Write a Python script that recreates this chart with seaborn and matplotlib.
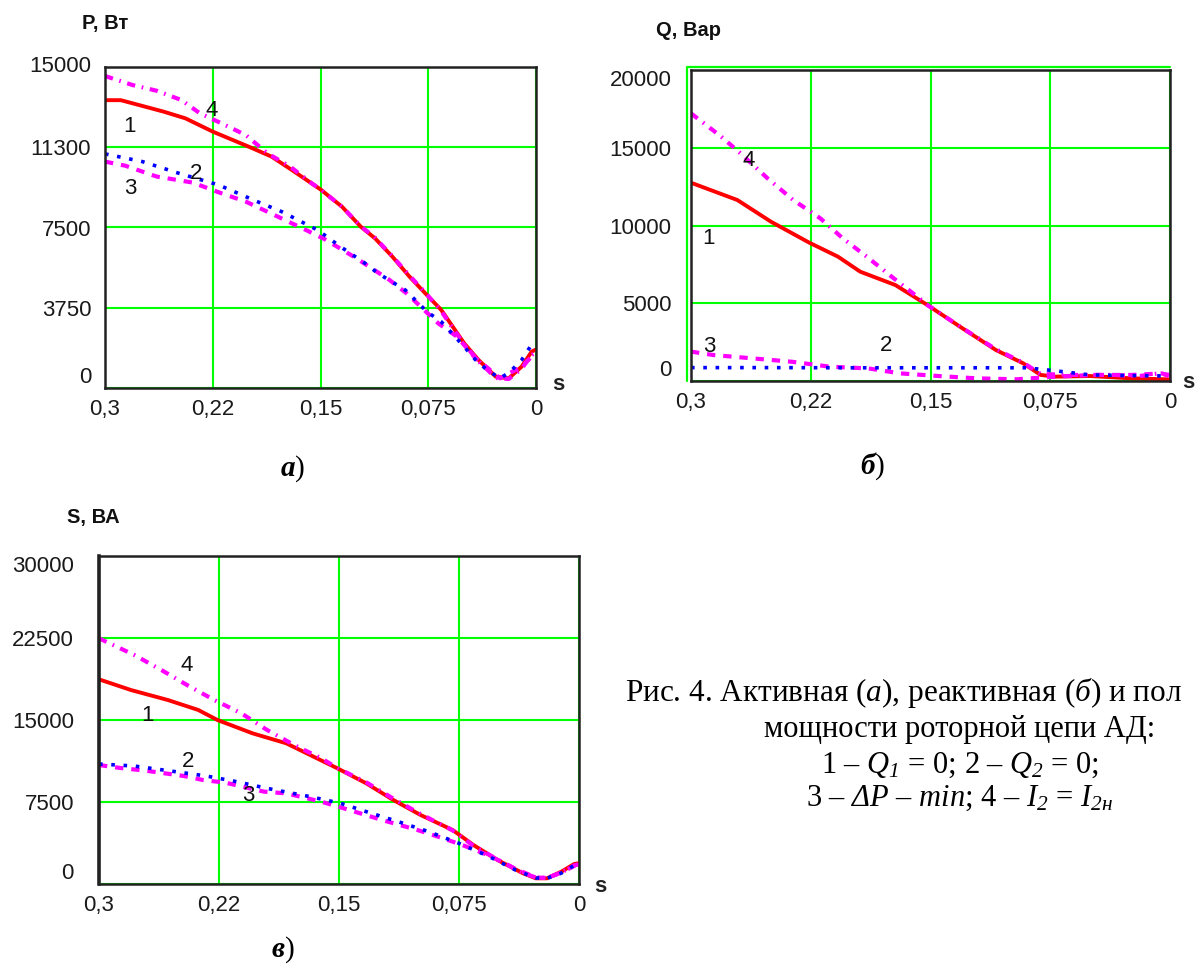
import matplotlib
matplotlib.use("Agg")
import matplotlib.pyplot as plt
import seaborn as sns
import pandas as pd
import numpy as np

sns.set_style("white")
plt.rcParams['font.family'] = ['Liberation Sans', 'DejaVu Sans']
plt.rcParams['mathtext.fontset'] = 'custom'
plt.rcParams['mathtext.rm'] = 'Liberation Serif'
plt.rcParams['mathtext.it'] = 'Liberation Serif:italic'
plt.rcParams['mathtext.sf'] = 'Liberation Serif:italic'
plt.rcParams['mathtext.bf'] = 'Liberation Serif:bold'
plt.rcParams['mathtext.bfit'] = 'Liberation Serif:italic:bold'

# ---------------- data ----------------
# Panel a) P, W
pa_s1 = [0.300, 0.289, 0.274, 0.259, 0.244, 0.225, 0.199, 0.184, 0.170, 0.150, 0.135, 0.122, 0.112, 0.100, 0.088, 0.077, 0.066, 0.058, 0.050, 0.040, 0.028, 0.019, 0.010, 0.003, 0.000]
pa_v1 = [13450, 13450, 13180, 12910, 12600, 11980, 11250, 10810, 10190, 9280, 8470, 7540, 6990, 6140, 5200, 4420, 3650, 2870, 2090, 1310, 530, 450, 1000, 1700, 1800]
pa_s4 = [0.300, 0.281, 0.264, 0.247, 0.234, 0.219, 0.202, 0.187, 0.171, 0.156, 0.150, 0.135, 0.122, 0.112, 0.100, 0.088, 0.077, 0.066, 0.058, 0.050, 0.040, 0.028, 0.019, 0.010, 0.003, 0.000]
pa_v4 = [14580, 14160, 13890, 13460, 12840, 12370, 11820, 10970, 10340, 9560, 9280, 8470, 7560, 7020, 6160, 5250, 4450, 3600, 2800, 2050, 1250, 470, 420, 900, 1550, 1650]
pa_s2 = [0.300, 0.274, 0.247, 0.221, 0.194, 0.177, 0.152, 0.136, 0.119, 0.110, 0.091, 0.076, 0.066, 0.050, 0.042, 0.034, 0.025, 0.018, 0.010, 0.004, 0.000]
pa_v2 = [10940, 10580, 10000, 9490, 8710, 8240, 7380, 6600, 5830, 5360, 4580, 3570, 3100, 1930, 1310, 840, 450, 760, 1310, 1930, 2050]
pa_s3 = [0.300, 0.286, 0.264, 0.239, 0.219, 0.202, 0.182, 0.160, 0.147, 0.125, 0.102, 0.090, 0.068, 0.055, 0.043, 0.025, 0.010, 0.003, 0.000]
pa_v3 = [10580, 10390, 9880, 9600, 9100, 8710, 8080, 7380, 6950, 6060, 5050, 4420, 3020, 2400, 1460, 450, 1000, 1460, 1550]

# Panel б) Q, var
pb_s1 = [0.300, 0.271, 0.250, 0.226, 0.208, 0.194, 0.172, 0.152, 0.130, 0.109, 0.092, 0.081, 0.072, 0.050, 0.036, 0.024, 0.002, 0.000]
pb_v1 = [12750, 11640, 10250, 8900, 8000, 7030, 6170, 4890, 3390, 1990, 1140, 390, 280, 320, 240, 170, 110, 100]
pb_s4 = [0.300, 0.281, 0.269, 0.252, 0.236, 0.219, 0.205, 0.190, 0.173, 0.157, 0.152, 0.130, 0.109, 0.092, 0.081, 0.060, 0.036, 0.019, 0.007, 0.000]
pb_v4 = [17210, 15710, 14640, 13030, 11640, 10460, 9180, 8000, 6600, 5320, 4890, 3400, 2040, 1180, 450, 390, 390, 320, 490, 390]
pb_s3 = [0.300, 0.286, 0.262, 0.237, 0.213, 0.189, 0.169, 0.145, 0.121, 0.096, 0.072, 0.048, 0.024, 0.005, 0.000]
pb_v3 = [1890, 1670, 1460, 1240, 920, 810, 490, 320, 170, 110, 280, 390, 390, 490, 280]
pb_s2 = [0.300, 0.250, 0.200, 0.150, 0.100, 0.090, 0.072, 0.050, 0.025, 0.000]
pb_v2 = [860, 860, 850, 850, 850, 850, 660, 390, 350, 320]

# Panel в) S, VA
pc_s1 = [0.300, 0.280, 0.257, 0.238, 0.226, 0.204, 0.183, 0.151, 0.133, 0.116, 0.099, 0.079, 0.066, 0.051, 0.035, 0.027, 0.020, 0.011, 0.003, 0.000]
pc_v1 = [18720, 17740, 16830, 15920, 15000, 13780, 12870, 10580, 9210, 7680, 6310, 4940, 3570, 2200, 980, 520, 520, 1130, 1830, 1900]
pc_s4 = [0.300, 0.278, 0.261, 0.245, 0.228, 0.211, 0.195, 0.178, 0.161, 0.151, 0.133, 0.116, 0.099, 0.079, 0.066, 0.051, 0.035, 0.027, 0.020, 0.011, 0.003, 0.000]
pc_v4 = [22470, 20950, 19570, 18200, 16830, 15610, 14090, 12710, 11490, 10600, 9300, 7800, 6400, 4900, 3500, 2250, 1000, 600, 550, 1050, 1700, 1800]
pc_s2 = [0.300, 0.278, 0.252, 0.233, 0.214, 0.195, 0.168, 0.149, 0.133, 0.113, 0.094, 0.075, 0.056, 0.040, 0.027, 0.020, 0.011, 0.003, 0.000]
pc_v2 = [10980, 10790, 10270, 9880, 9360, 8750, 7990, 7380, 6620, 5700, 4790, 3720, 2500, 1300, 550, 520, 1000, 1700, 1800]
pc_s3 = [0.300, 0.285, 0.271, 0.247, 0.235, 0.221, 0.197, 0.183, 0.161, 0.147, 0.123, 0.101, 0.085, 0.073, 0.056, 0.040, 0.027, 0.020, 0.011, 0.003, 0.000]
pc_v3 = [10880, 10580, 10370, 9880, 9510, 9270, 8450, 8290, 7530, 6920, 5850, 4940, 4180, 3570, 2600, 1400, 600, 550, 1050, 1650, 1750]

x_ticks = [0.3, 0.225, 0.15, 0.075, 0.0]
x_ticklabels = ["0,3", "0,22", "0,15", "0,075", "0"]
pa_yticks = [0, 3750, 7500, 11250, 15000]
pa_yticklabels = ["0", "3750", "7500", "11300", "15000"]
pb_yticks = [0, 5000, 10000, 15000, 20000]
pb_yticklabels = ["0", "5000", "10000", "15000", "20000"]
pc_yticks = [0, 7500, 15000, 22500, 30000]
pc_yticklabels = ["0", "7500", "15000", "22500", "30000"]

# ---------------- styles ----------------
RED = "#FF0000"
MAG = "#FF00FF"
BLUE = "#0000FF"
GREEN = "#00FF00"
style1 = dict(color=RED, lw=2.8, linestyle="-")
style4 = dict(color=MAG, lw=3.0, linestyle=(0, (2.0, 1.6, 0.4, 1.6)))
style3 = dict(color=MAG, lw=3.0, linestyle=(0, (2.0, 1.9)))
style2 = dict(color=BLUE, lw=2.6, linestyle=(0, (1.0, 2.4)))

W, H = 1197, 967
fig = plt.figure(figsize=(W / 100, H / 100), dpi=100)


def px_axes(l, t, r, b):
    return fig.add_axes([l / W, 1 - b / H, (r - l) / W, (b - t) / H])


def draw_panel(ax, series, yticks, yticklabels, ypad):
    for s, v, st in series:
        df = pd.DataFrame({"s": s, "v": v})
        sns.lineplot(data=df, x="s", y="v", ax=ax, estimator=None, sort=False,
                     solid_capstyle="butt", dash_capstyle="butt", **st)
    ax.set_xlim(0.3, 0.0)
    ax.set_ylim(yticks[0], yticks[-1])
    ax.set_xticks(x_ticks)
    ax.set_xticklabels(x_ticklabels)
    ax.set_yticks(yticks)
    ax.set_yticklabels(yticklabels)
    ax.grid(True, color=GREEN, lw=1.5)
    ax.set_axisbelow(True)
    ax.tick_params(axis="both", length=0, labelsize=16, colors="#1a1a1a")
    ax.tick_params(axis="x", pad=8)
    ax.tick_params(axis="y", pad=ypad)
    for sp in ax.spines.values():
        sp.set_color("#222222")
        sp.set_linewidth(1.8)
        sp.set_zorder(5)
    ax.set_xlabel("")
    ax.set_ylabel("")
    labs = ax.get_yticklabels()
    labs[0].set_va("bottom")
    labs[-1].set_va("top")
    ax.set_facecolor("white")


lab_kw = dict(fontsize=16, ha="center", va="center", color="#111111", zorder=6)

# Panel a
ax_a = px_axes(105, 67, 536, 388)
draw_panel(ax_a, [(pa_s1, pa_v1, style1), (pa_s4, pa_v4, style4),
                  (pa_s3, pa_v3, style3), (pa_s2, pa_v2, style2)],
           pa_yticks, pa_yticklabels, 10)
ax_a.get_yticklabels()[-1].set_va("center")
ax_a.text(0.2254, 12990, "4", **lab_kw)
ax_a.text(0.2826, 12210, "1", **lab_kw)
ax_a.text(0.2366, 10030, "2", **lab_kw)
ax_a.text(0.2826, 9330, "3", **lab_kw)

# Panel б
ax_b = px_axes(691, 70, 1170, 381)
draw_panel(ax_b, [(pb_s1, pb_v1, style1), (pb_s4, pb_v4, style4),
                  (pb_s3, pb_v3, style3), (pb_s2, pb_v2, style2)],
           pb_yticks, pb_yticklabels, 14)
ax_b.text(0.264, 14212, "4", **lab_kw)
ax_b.text(0.2888, 9175, "1", **lab_kw)
ax_b.text(0.2883, 2208, "3", **lab_kw)
ax_b.text(0.1778, 2315, "2", **lab_kw)
# green outer frame (left and top) of panel б
fig.add_artist(plt.Line2D([687 / W, 687 / W, 1170 / W], [1 - 381 / H, 1 - 67 / H, 1 - 67 / H],
                          color=GREEN, lw=1.6, transform=fig.transFigure))

# Panel в
ax_c = px_axes(99, 556, 579, 884)
draw_panel(ax_c, [(pc_s1, pc_v1, style1), (pc_s4, pc_v4, style4),
                  (pc_s3, pc_v3, style3), (pc_s2, pc_v2, style2)],
           pc_yticks, pc_yticklabels, 18)
ax_c.spines["left"].set_linewidth(2.6)
ax_c.text(0.2451, 20030, "4", **lab_kw)
ax_c.text(0.2697, 15457, "1", **lab_kw)
ax_c.text(0.2446, 11189, "2", **lab_kw)
ax_c.text(0.2069, 8140, "3", **lab_kw)


def ftext(x, y, s, **kw):
    fig.text(x / W, 1 - y / H, s, **kw)


ttl = dict(fontsize=14.5, fontweight="bold", ha="left", va="center", color="#111111")
ftext(82, 24, "P, Вт", **ttl)
ftext(656, 31, "Q, Вар", **ttl)
ftext(67, 517, "S, ВА", **ttl)

skw = dict(fontsize=16, fontweight="bold", ha="center", va="center", color="#222222")
ftext(558, 385, "s", **skw)
ftext(1188, 382, "s", **skw)
ftext(600, 886, "s", **skw)

pkw = dict(fontsize=21, ha="center", va="center", color="black", family="Liberation Serif")
ftext(293, 469, r"$\mathbfit{а}$)", **pkw)
ftext(873, 466, r"$\mathbfit{б}$)", **pkw)
ftext(283, 950, r"$\mathbfit{в}$)", **pkw)

# caption (the first line is cut by the right edge in the reference; its visible part is kept)
ckw = dict(fontsize=22, va="center", color="black", family="Liberation Serif")
ftext(625, 693, r"Рис. 4. Активная ($\mathit{а}$), реактивная ($\mathit{б}$) и пол",
      ha="left", **dict(ckw, fontsize=22.5))
ftext(960, 730, "мощности роторной цепи АД:", ha="center", **ckw)
ftext(960, 765, r"1 – $Q_\mathsf{1}$ = 0; 2 – $Q_\mathsf{2}$ = 0;", ha="center", **ckw)
ftext(960, 798, r"3 – $\mathsf{ΔP}$ – $\mathit{min}$; 4 – $I_\mathsf{2}$ = $I_\mathsf{2н}$", ha="center", **ckw)

fig.savefig("out.png", dpi=100, facecolor="white")
